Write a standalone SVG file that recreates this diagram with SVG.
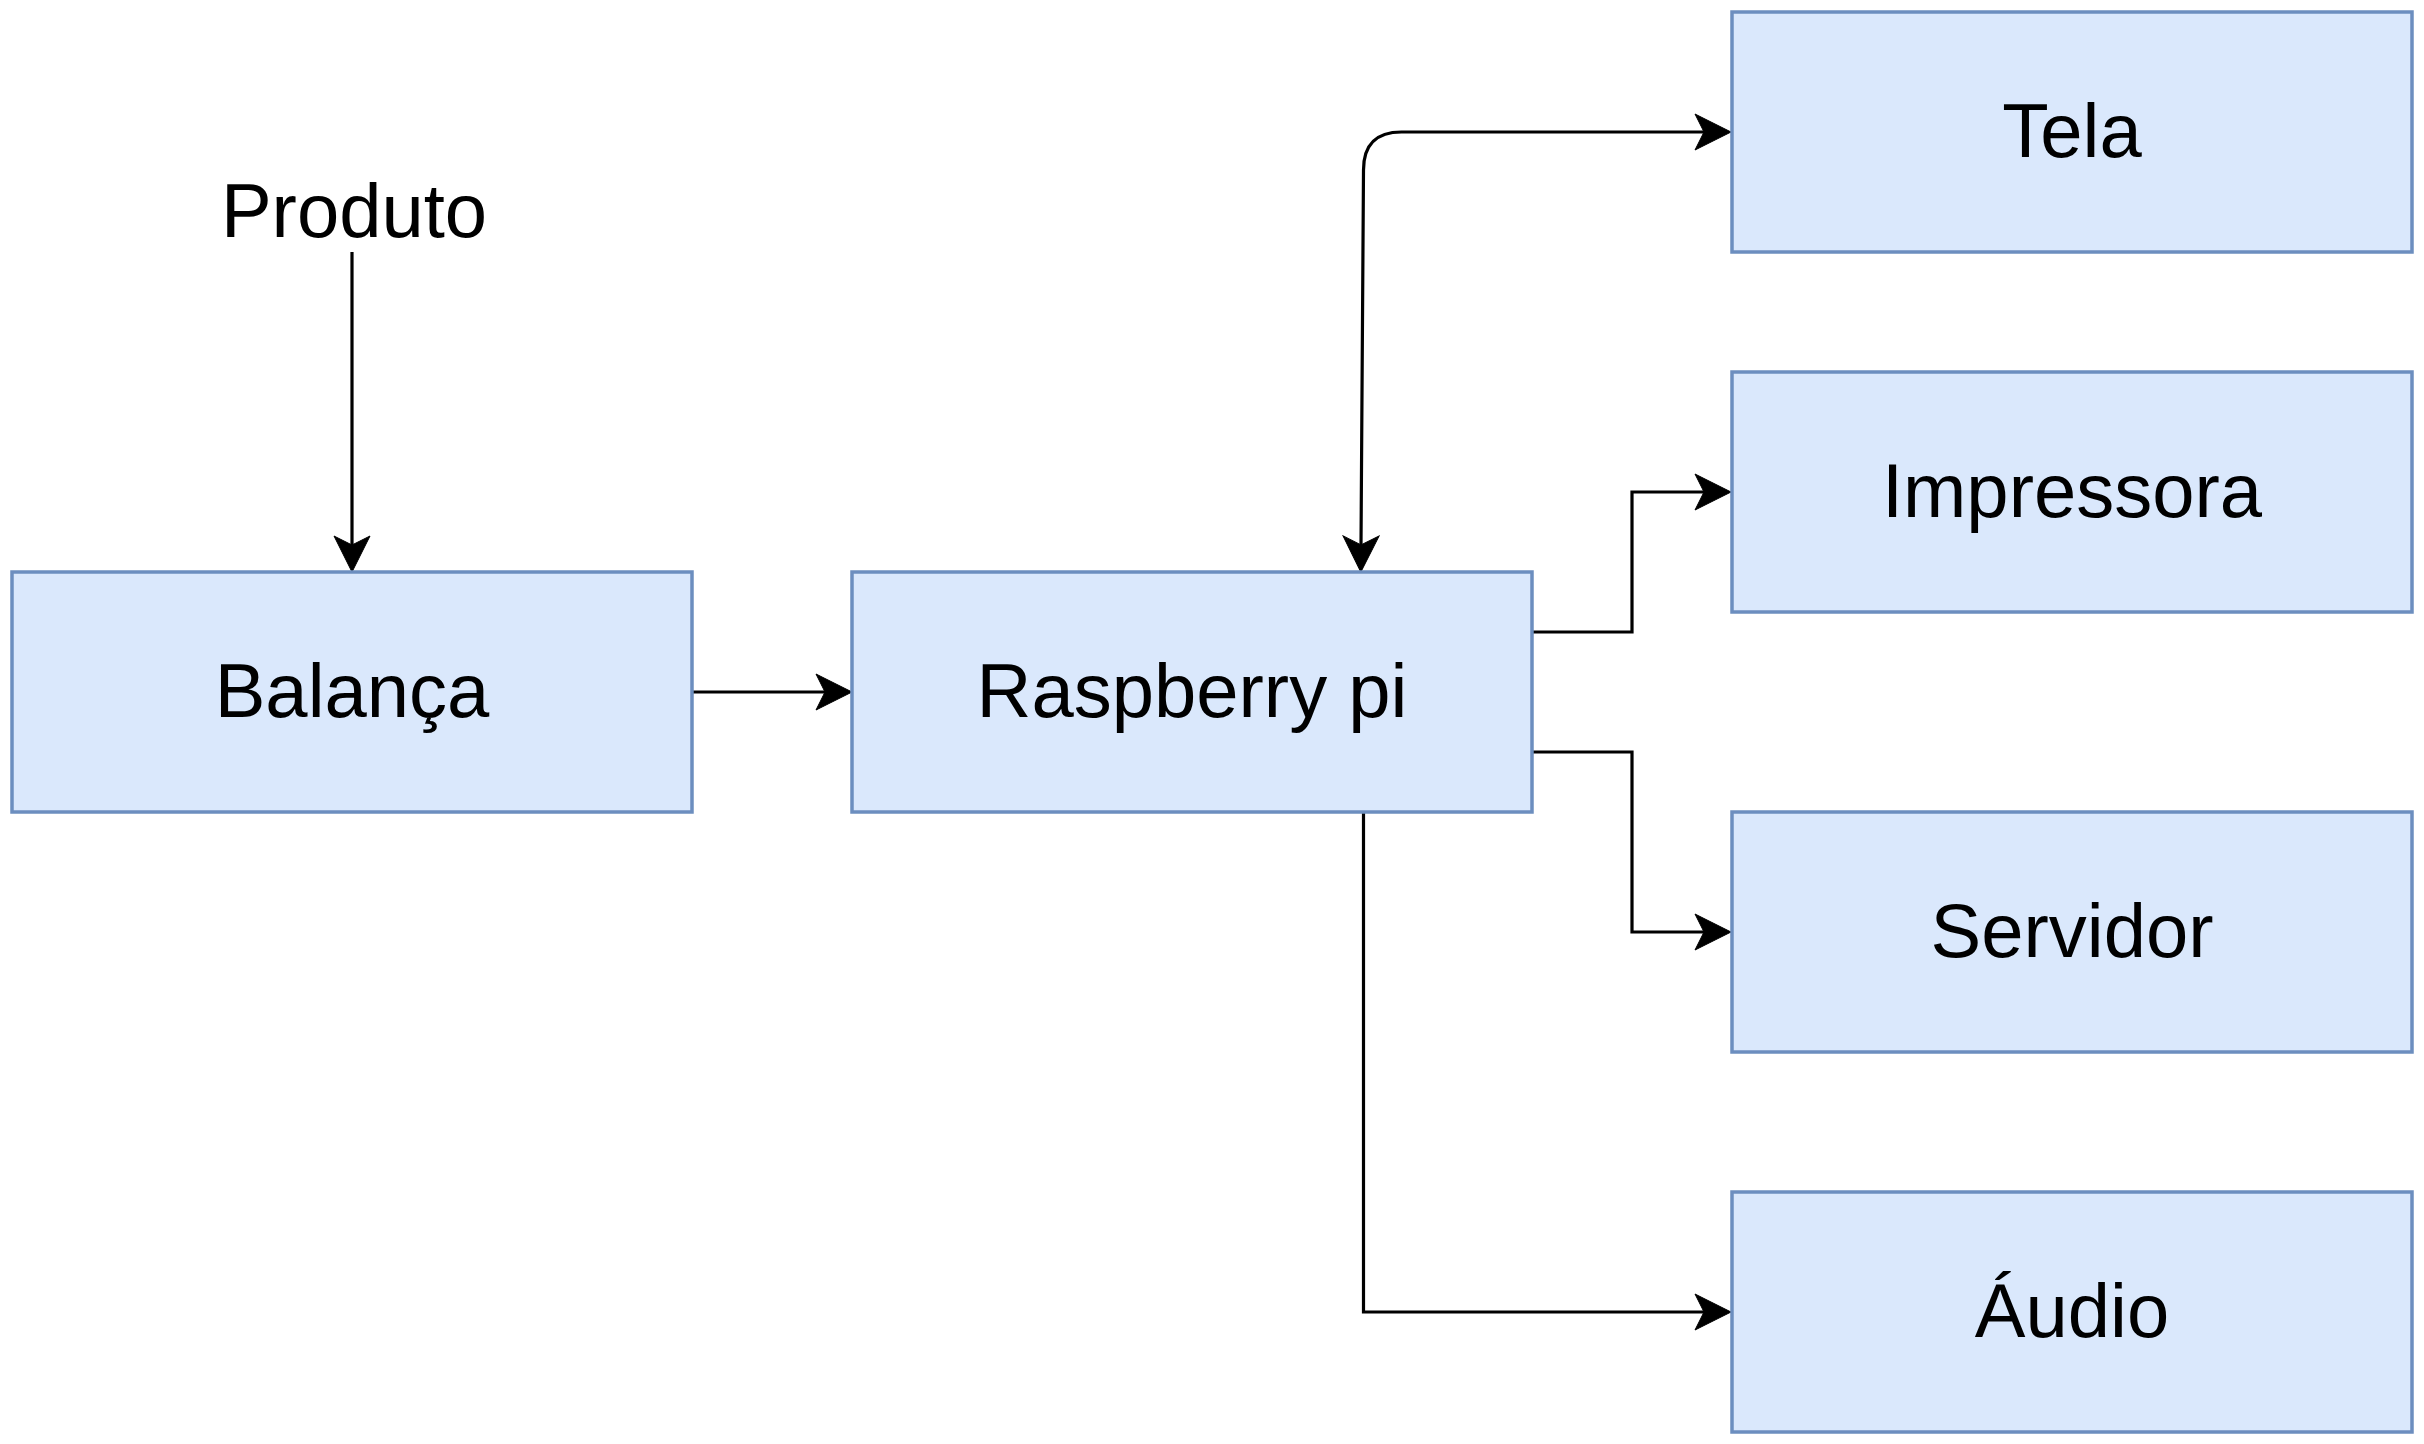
<svg xmlns="http://www.w3.org/2000/svg" width="2424" height="1444" viewBox="0 0 2424 1444">
<style>
.box{fill:#dae8fc;stroke:#6c8ebf;stroke-width:3.5}
.lbl{font-family:"Liberation Sans",Arial,sans-serif;font-size:76px;fill:#000;text-anchor:middle}
.edge{fill:none;stroke:#000;stroke-width:3.2}
</style>
<defs>
<marker id="arr" viewBox="-37 -19 38 38" markerWidth="38" markerHeight="38" refX="-27" refY="0" markerUnits="userSpaceOnUse" orient="auto-start-reverse">
<path d="M0,0 L-36,-18 L-27,0 L-36,18 Z" fill="#000" stroke="#000" stroke-width="1"/>
</marker>
</defs>
<rect width="2424" height="1444" fill="#fff"/>
<g id="edges">
<path class="edge" d="M352 252 L352 545" marker-end="url(#arr)"/>
<path class="edge" d="M692 692 L825 692" marker-end="url(#arr)"/>
<path class="edge" d="M1361 545 L1363.5 170 Q1363.5 132 1401.5 132 L1704 132" marker-start="url(#arr)" marker-end="url(#arr)"/>
<path class="edge" d="M1533 632 L1632 632 L1632 492 L1704 492" marker-end="url(#arr)"/>
<path class="edge" d="M1533 752 L1632 752 L1632 932 L1704 932" marker-end="url(#arr)"/>
<path class="edge" d="M1363.5 812 L1363.5 1312 L1704 1312" marker-end="url(#arr)"/>
</g>
<g id="produto">
<text class="lbl" x="354" y="237">Produto</text>
</g>
<g id="balanca">
<rect class="box" x="12" y="572" width="680" height="240"/>
<text class="lbl" x="352" y="717">Balança</text>
</g>
<g id="raspberry">
<rect class="box" x="852" y="572" width="680" height="240"/>
<text class="lbl" x="1192" y="717">Raspberry pi</text>
</g>
<g id="tela">
<rect class="box" x="1732" y="12" width="680" height="240"/>
<text class="lbl" x="2072" y="157">Tela</text>
</g>
<g id="impressora">
<rect class="box" x="1732" y="372" width="680" height="240"/>
<text class="lbl" x="2072" y="517">Impressora</text>
</g>
<g id="servidor">
<rect class="box" x="1732" y="812" width="680" height="240"/>
<text class="lbl" x="2072" y="957">Servidor</text>
</g>
<g id="audio">
<rect class="box" x="1732" y="1192" width="680" height="240"/>
<text class="lbl" x="2072" y="1337">Áudio</text>
</g>
</svg>
